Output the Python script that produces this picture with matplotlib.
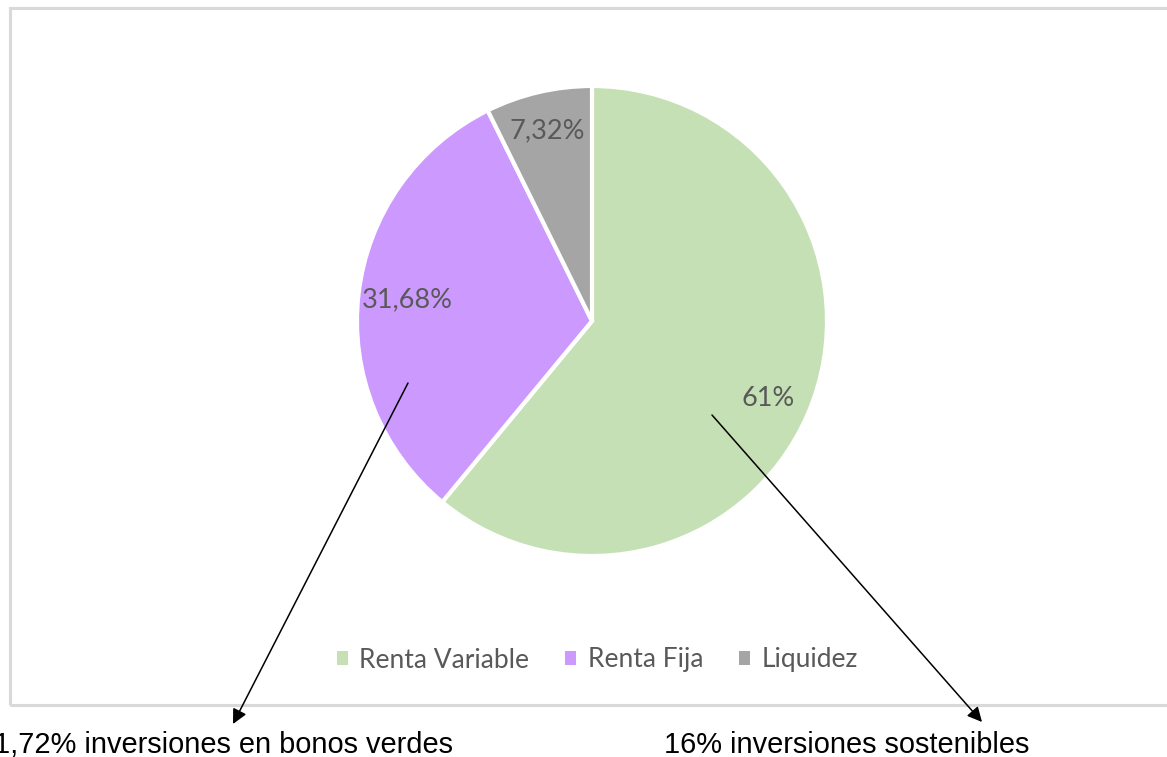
import matplotlib
matplotlib.use("Agg")
import matplotlib.pyplot as plt
from matplotlib.patches import Rectangle
import numpy as np

# Portfolio composition
categories = ["Renta Variable", "Renta Fija", "Liquidez"]
values = [61.0, 31.68, 7.32]
value_labels = ["61%", "31,68%", "7,32%"]
colors = ["#c5e0b4", "#cc99ff", "#a5a5a5"]

# Notes beneath the chart
note_left = "1,72% inversiones en bonos verdes"
note_right = "16% inversiones sostenibles"

W, H = 1167, 757
fig = plt.figure(figsize=(W / 100, H / 100), dpi=100)
ax = fig.add_axes([0, 0, 1, 1])
ax.set_xlim(0, W)
ax.set_ylim(0, H)
ax.set_aspect("equal")
ax.axis("off")

def py(y):
    return H - y

# Chart frame
ax.add_patch(Rectangle((10, py(705)), W + 20, 705 - 8, fill=False,
                       edgecolor="#d9d9d9", linewidth=2.2, zorder=0))

cx, cy, r = 592, py(321), 235
wedges, _ = ax.pie(values, colors=colors, startangle=90, counterclock=False,
                   center=(cx, cy), radius=r,
                   wedgeprops=dict(edgecolor="white", linewidth=3))
ax.set_xlim(0, W)
ax.set_ylim(0, H)

label_dist = [0.82, 0.79, 0.83]
label_shift = [-4, 0, 0]
for w, lab, d, s in zip(wedges, value_labels, label_dist, label_shift):
    ang = np.deg2rad((w.theta1 + w.theta2) / 2 + s)
    ax.text(cx + d * r * np.cos(ang), cy + d * r * np.sin(ang), lab,
            ha="center", va="center", fontsize=19.5, color="#595959",
            family="Lato")

leg = fig.legend(wedges, categories, loc="center", ncol=3,
                 bbox_to_anchor=(0.512, 1 - 660 / H), frameon=False,
                 handlelength=0.4, handleheight=0.4, handletextpad=0.45,
                 columnspacing=1.36,
                 prop=dict(family="Lato", size=19))
for t in leg.get_texts():
    t.set_color("#595959")
for h in leg.legend_handles:
    h.set_edgecolor("none")

# Arrows pointing to the notes
arrow = dict(arrowstyle="-|>", color="black", lw=1.1, mutation_scale=22,
             shrinkA=0, shrinkB=0)
ax.annotate("", xy=(233, py(724)), xytext=(408, py(383)), arrowprops=arrow)
ax.annotate("", xy=(982, py(722)), xytext=(712, py(415)), arrowprops=arrow)

ax.text(-6, py(745), note_left, ha="left", va="center", fontsize=20.9,
        family="Liberation Sans", color="black")
ax.text(664, py(745), note_right, ha="left", va="center", fontsize=20.9,
        family="Liberation Sans", color="black")

fig.savefig("out.png", dpi=100)
